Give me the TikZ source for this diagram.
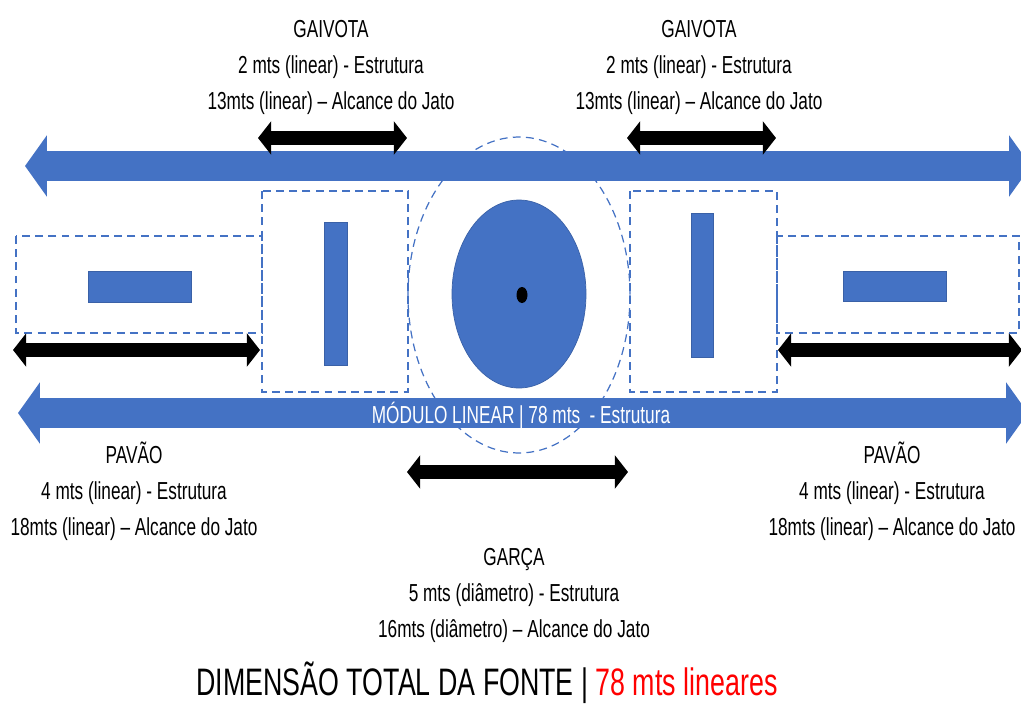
\documentclass[tikz,border=0pt]{standalone}
\usepackage{fontspec}
\setmainfont{Liberation Sans}[FakeStretch=0.70]
\usetikzlibrary{arrows.meta}
\definecolor{fblue}{RGB}{68,114,196}
\definecolor{fred}{RGB}{255,0,0}

\begin{document}
\begin{tikzpicture}[x=0.02cm, y=-0.02cm,
    faixa/.style={line width=17.2pt, draw=fblue,
      arrows={Triangle[length=12.5pt,width=34.4pt]-Triangle[length=12.5pt,width=34.4pt]}},
    seta/.style={line width=7.6pt, draw=black,
      arrows={Triangle[length=7.5pt,width=18.7pt]-Triangle[length=7.5pt,width=18.7pt]}},
    area/.style={draw=fblue, line width=0.7pt, dash pattern=on 4.5pt off 3pt},
    peca/.style={fill=fblue, draw=fblue!85!black, line width=0.4pt},
    rotulo/.style={align=center, inner sep=0pt, font=\fontsize{14}{20.4}\selectfont}]

  \clip (0,0) rectangle (1021,707);

  % faixa superior
  \coordinate (fs1) at (25,166);
  \coordinate (fs2) at (1031,166);
  \draw[faixa] (fs1) -- (fs2);

  % areas dos jatos
  \draw[area] (16,236) rectangle (262,333);
  \draw[area] (262,191) rectangle (408,392);
  \draw[area] (630,191) rectangle (777,392);
  \draw[area] (777,236) rectangle (1019,333);
  \draw[area] (519,295) ellipse [x radius=111, y radius=158];

  % pecas
  \draw[peca] (88,271) rectangle (191,302);
  \draw[peca] (324,222) rectangle (347,365);
  \draw[peca] (691,213) rectangle (713,357);
  \draw[peca] (843,271) rectangle (946,301);
  \draw[peca] (519,294) ellipse [x radius=67, y radius=94];
  \fill (522,295) ellipse [x radius=5.5, y radius=8];

  % faixa inferior
  \coordinate (fi1) at (18,413);
  \coordinate (fi2) at (1028,413);
  \draw[faixa] (fi1) -- (fi2);
  \node (mod) [anchor=base, inner sep=0pt, text=white, font=\fontsize{14}{16}\selectfont]
    at (521,423) {MÓDULO LINEAR | 78 mts\ \ - Estrutura};

  % setas de alcance
  \coordinate (g1a) at (258,138);
  \coordinate (g1b) at (407,138);
  \coordinate (g2a) at (627,138);
  \coordinate (g2b) at (776,138);
  \coordinate (p1a) at (13,350);
  \coordinate (p1b) at (260,350);
  \coordinate (p2a) at (778,350);
  \coordinate (p2b) at (1022,350);
  \coordinate (ga) at (407,472);
  \coordinate (gb) at (628,472);
  \draw[seta] (g1a) -- (g1b);
  \draw[seta] (g2a) -- (g2b);
  \draw[seta] (p1a) -- (p1b);
  \draw[seta] (p2a) -- (p2b);
  \draw[seta] (ga) -- (gb);

  % legendas
  \node (gaivota1) [rotulo] at (331,67.5)
    {GAIVOTA\\2 mts (linear) - Estrutura\\13mts (linear) – Alcance do Jato};
  \node (gaivota2) [rotulo] at (699,67.5)
    {GAIVOTA\\2 mts (linear) - Estrutura\\13mts (linear) – Alcance do Jato};
  \node (pavao1) [rotulo] at (134,491)
    {PAVÃO\\4 mts (linear) - Estrutura\\18mts (linear) – Alcance do Jato};
  \node (pavao2) [rotulo] at (892,491)
    {PAVÃO\\4 mts (linear) - Estrutura\\18mts (linear) – Alcance do Jato};
  \node (garca) [rotulo] at (514,595.5)
    {GARÇA\\5 mts (diâmetro) - Estrutura\\16mts (diâmetro) – Alcance do Jato};
  \node (total) [anchor=base, inner sep=0pt, font=\fontsize{21.8}{24}\selectfont] at (487,695)
    {DIMENSÃO TOTAL DA FONTE | \textcolor{fred}{78 mts lineares}};

\end{tikzpicture}
\end{document}
